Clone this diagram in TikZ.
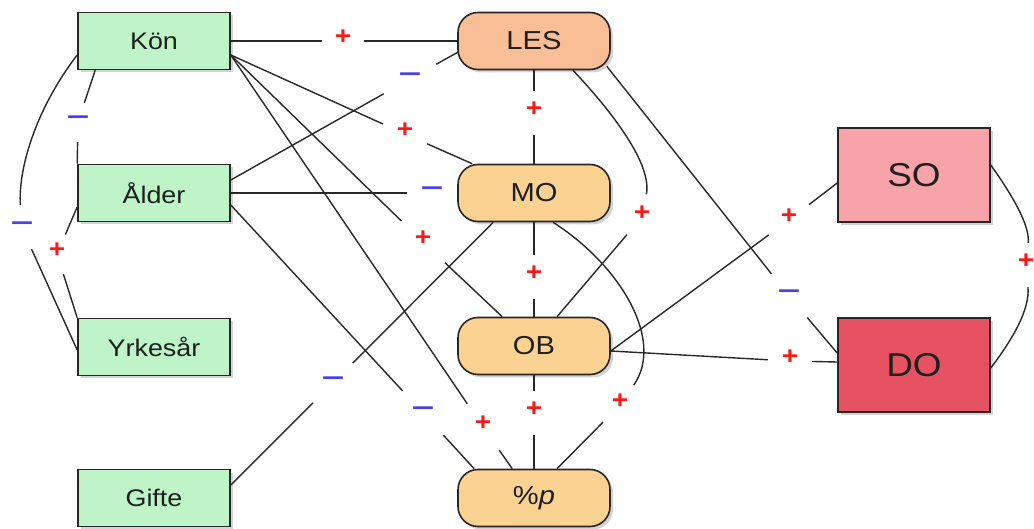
\documentclass[tikz,border=0pt]{standalone}
\usepackage{fontspec}
\setmainfont{Liberation Sans}[FakeStretch=1.12]
\usetikzlibrary{shadows,calc}
\definecolor{gbox}{RGB}{190,244,200}
\definecolor{lesfill}{RGB}{249,190,150}
\definecolor{midfill}{RGB}{251,210,146}
\definecolor{sofill}{RGB}{248,162,170}
\definecolor{dofill}{RGB}{230,82,98}
\definecolor{edgec}{RGB}{40,40,40}
\definecolor{plusc}{RGB}{250,25,25}
\definecolor{minusc}{RGB}{75,65,235}
\begin{document}
\begin{tikzpicture}[x=1pt,y=-1pt,
  box/.style={draw=black!85, line width=1.6pt, minimum width=152pt, minimum height=57pt,
    inner sep=0pt, text=black!88,
    drop shadow={shadow xshift=3pt, shadow yshift=-3pt, opacity=0.35}},
  varbox/.style={box, fill=gbox, font=\fontsize{24}{24}\selectfont},
  midbox/.style={box, rounded corners=20pt, fill=midfill, font=\fontsize{26}{26}\selectfont},
  outbox/.style={box, minimum height=94pt, font=\fontsize{33}{33}\selectfont},
  conn/.style={draw=edgec, line width=1.4pt},
  plab/.style={circle, inner sep=0pt, minimum size=#1, text=plusc, text height=0.7em, text depth=0pt,
    font=\bfseries\fontsize{25}{25}\selectfont},
  plab/.default=46pt,
  mlab/.style={circle, inner sep=0pt, minimum size=#1, text=minusc, text height=0.7em, text depth=0pt,
    font=\bfseries\fontsize{25}{25}\selectfont},
  mlab/.default=46pt]
\useasboundingbox (0,0) rectangle (1034,529);

% nodes
\node[varbox] (Kon) at (154,41) {Kön};
\node[varbox] (Alder) at (154,193) {Ålder};
\node[varbox] (Yrk) at (154,347) {Yrkesår};
\node[varbox] (Gifte) at (154,498) {Gifte};
\node[midbox, fill=lesfill] (LES) at (534,41) {LES};
\node[midbox] (MO) at (534,193) {MO};
\node[midbox] (OB) at (534,346) {OB};
\node[midbox] (P) at (534,498) {\%\textit{p}};
\node[outbox, fill=sofill] (SO) at (914,175) {SO};
\node[outbox, fill=dofill] (DO) at (914,365) {DO};

% labels
\node[plab=42pt] (l1) at (343,41) {+};
\node[mlab=60pt] (l2) at (410,79) {\scalebox{1.4}[1]{−}};
\node[plab=48pt] (l3) at (405,134) {+};
\node[mlab=50pt] (l4) at (432,193) {\scalebox{1.4}[1]{−}};
\node[plab=60pt] (l5) at (423,242) {+};
\node[plab=56pt] (l6) at (483,427) {+};
\node[mlab=60pt] (l7) at (423,413) {\scalebox{1.4}[1]{−}};
\node[mlab=56pt] (l8) at (333,383) {\scalebox{1.4}[1]{−}};
\node[plab=44pt] (l9) at (534,113) {+};
\node[plab=44pt] (l10) at (534,277) {+};
\node[plab=44pt] (l11) at (534,413) {+};
\node[plab=46pt] (l12) at (642,217) {+};
\node[plab=48pt] (l13) at (620,405) {+};
\node[mlab=56pt] (l14) at (789,296) {\scalebox{1.4}[1]{−}};
\node[plab=50pt] (l15) at (789,220) {+};
\node[plab=44pt] (l16) at (790,361) {+};
\node[plab=44pt] (l17) at (1026,265) {+};
\node[mlab=40pt] (l18) at (78,122) {\scalebox{1.4}[1]{−}};
\node[mlab=46pt] (l19) at (22,228) {\scalebox{1.4}[1]{−}};
\node[plab=42pt] (l20) at (57,254) {+};

% connectors
\draw[conn] (Kon.east) -- (l1) -- (LES.west);
\draw[conn] ($(Alder.east)+(0,-13)$) -- (l2) -- ($(LES.west)+(1,11)$);
\draw[conn] ($(Kon.east)+(0,14)$) -- (l3) -- ($(MO.north west)+(15,0)$);
\draw[conn] (Alder.east) -- (l4) -- (MO.west);
\draw[conn] ($(Kon.east)+(0,14)$) -- (l5) -- ($(OB.north west)+(45,0)$);
\draw[conn] ($(Kon.east)+(0,14)$) -- (l6) -- ($(P.north west)+(55,0)$);
\draw[conn] ($(Alder.east)+(0,12)$) -- (l7) -- ($(P.north west)+(17,0)$);
\draw[conn] ($(Gifte.east)+(0,-13)$) -- (l8) -- ($(MO.south west)+(36,0)$);
\draw[conn] (LES.south) -- (l9) -- (MO.north);
\draw[conn] (MO.south) -- (l10) -- (OB.north);
\draw[conn] (OB.south) -- (l11) -- (P.north);
\draw[conn] ($(LES.south)+(39,0)$) .. controls (615,115) and (652,165) .. (l12) -- ($(OB.north)+(23,0)$);
\draw[conn] ($(MO.south)+(19,0)$) .. controls (620,265) and (665,340) .. (l13) -- ($(P.north)+(23,0)$);
\draw[conn] ($(LES.south east)+(-4,-4)$) -- (l14) -- ($(DO.west)+(0,-12)$);
\draw[conn] ($(OB.east)+(0,5)$) -- (l15) -- ($(SO.west)+(0,8)$);
\draw[conn] ($(OB.east)+(0,5)$) -- (l16) -- ($(DO.west)+(0,-3)$);
\draw[conn] ($(SO.east)+(0,-10)$) .. controls (1012,195) and (1030,225) .. (l17)
  .. controls (1030,310) and (1012,340) .. ($(DO.east)+(0,3)$);
\draw[conn] ($(Kon.south west)+(18,0)$) -- (l18) -- (Alder.north west);
\draw[conn] ($(Kon.west)+(0,14)$) .. controls (35,110) and (18,170) .. (l19) -- ($(Yrk.west)+(0,3)$);
\draw[conn] ($(Alder.west)+(0,14)$) -- (l20) -- (Yrk.north west);
\end{tikzpicture}
\end{document}
